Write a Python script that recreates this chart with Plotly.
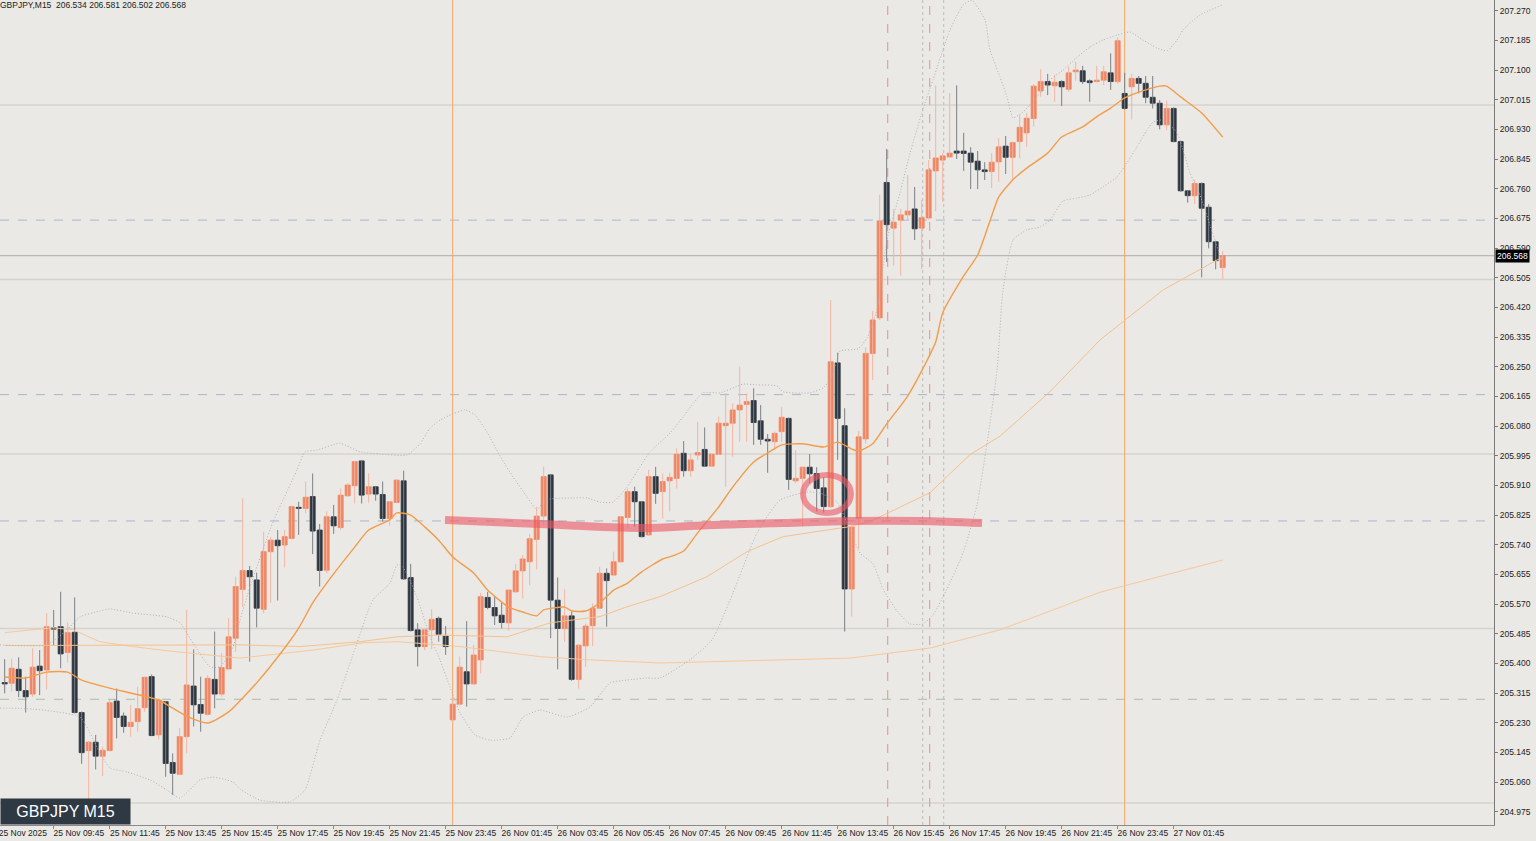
import plotly.graph_objects as go

# ---------------- OHLC data (GBPJPY M15), bar 0 = 25 Nov 08:00 ----------------
opens = [205.345, 205.343, 205.383, 205.322, 205.312, 205.392, 205.381, 205.502, 205.505, 205.431,
         205.489, 205.259, 205.150, 205.174, 205.134, 205.150, 205.292, 205.249, 205.219, 205.233,
         205.273, 205.362, 205.195, 205.290, 205.116, 205.082, 205.190, 205.335, 205.282, 205.254,
         205.354, 205.312, 205.384, 205.472, 205.612, 205.666, 205.639, 205.555, 205.720, 205.753,
         205.739, 205.758, 205.847, 205.844, 205.878, 205.782, 205.667, 205.820, 205.789, 205.880,
         205.909, 205.980, 205.885, 205.906, 205.884, 205.815, 205.861, 205.923, 205.646, 205.496,
         205.448, 205.496, 205.529, 205.478, 205.238, 205.283, 205.376, 205.341, 205.410, 205.589,
         205.560, 205.538, 205.516, 205.605, 205.665, 205.691, 205.755, 205.822, 205.940, 205.581,
         205.500, 205.536, 205.354, 205.450, 205.508, 205.558, 205.658, 205.653, 205.691, 205.818,
         205.892, 205.863, 205.768, 205.935, 205.892, 205.923, 205.930, 206.002, 205.952, 205.997,
         206.013, 205.965, 205.999, 206.081, 206.088, 206.126, 206.142, 206.153, 206.095, 206.042,
         206.035, 206.064, 206.102, 205.923, 205.930, 205.962, 205.944, 205.903, 205.849, 206.261,
         206.081, 205.613, 205.816, 206.043, 206.288, 206.390, 206.778, 206.647, 206.670, 206.685,
         206.702, 206.647, 206.676, 206.811, 206.842, 206.851, 206.868, 206.868, 206.862, 206.839,
         206.814, 206.809, 206.837, 206.882, 206.850, 206.895, 206.920, 206.961, 207.040, 207.067,
         207.055, 207.067, 207.045, 207.095, 207.098, 207.069, 207.067, 207.071, 207.092, 207.067,
         207.033, 207.052, 207.076, 207.062, 207.022, 207.005, 206.943, 206.990, 206.895, 206.754,
         206.740, 206.775, 206.707, 206.608, 206.534]
highs = [205.412, 205.414, 205.417, 205.362, 205.443, 205.438, 205.543, 205.553, 205.605, 205.517,
         205.589, 205.262, 205.178, 205.195, 205.161, 205.295, 205.328, 205.259, 205.281, 205.333,
         205.362, 205.368, 205.300, 205.292, 205.142, 205.214, 205.553, 205.440, 205.362, 205.366,
         205.491, 205.430, 205.529, 205.648, 205.873, 205.679, 205.660, 205.777, 205.761, 205.782,
         205.782, 205.852, 205.863, 205.921, 205.944, 205.799, 205.835, 205.854, 205.901, 205.916,
         205.980, 205.982, 205.944, 205.908, 205.921, 205.865, 205.927, 205.952, 205.685, 205.515,
         205.500, 205.555, 205.534, 205.507, 205.300, 205.419, 205.521, 205.453, 205.602, 205.605,
         205.591, 205.574, 205.612, 205.685, 205.710, 205.771, 205.849, 205.964, 205.943, 205.646,
         205.612, 205.548, 205.455, 205.514, 205.572, 205.677, 205.672, 205.720, 205.822, 205.901,
         205.906, 205.865, 205.954, 205.963, 205.944, 205.946, 206.016, 206.037, 206.000, 206.092,
         206.076, 206.002, 206.107, 206.174, 206.145, 206.250, 206.174, 206.188, 206.140, 206.057,
         206.064, 206.135, 206.104, 206.011, 205.964, 206.000, 205.962, 205.933, 206.441, 206.290,
         206.131, 205.796, 206.066, 206.306, 206.410, 206.743, 206.874, 206.702, 206.702, 206.799,
         206.765, 206.728, 206.842, 207.056, 206.862, 207.034, 207.056, 206.920, 206.879, 206.868,
         206.836, 206.862, 206.905, 206.911, 206.895, 206.971, 206.977, 207.060, 207.102, 207.089,
         207.086, 207.071, 207.110, 207.124, 207.112, 207.073, 207.112, 207.112, 207.148, 207.194,
         207.092, 207.089, 207.083, 207.083, 207.083, 207.014, 207.012, 206.993, 206.897, 206.756,
         206.785, 206.778, 206.716, 206.611, 206.581]
lows = [205.314, 205.319, 205.303, 205.259, 205.304, 205.309, 205.325, 205.452, 205.386, 205.402,
        205.257, 205.112, 205.008, 205.096, 205.077, 205.148, 205.185, 205.201, 205.190, 205.204,
        205.261, 205.193, 205.182, 205.075, 205.023, 205.080, 205.142, 205.219, 205.204, 205.250,
        205.271, 205.305, 205.382, 205.433, 205.562, 205.405, 205.503, 205.543, 205.574, 205.580,
        205.675, 205.755, 205.768, 205.830, 205.713, 205.620, 205.658, 205.771, 205.782, 205.878,
        205.858, 205.858, 205.860, 205.866, 205.806, 205.794, 205.859, 205.639, 205.491, 205.391,
        205.438, 205.440, 205.462, 205.424, 205.225, 205.280, 205.276, 205.338, 205.371, 205.555,
        205.510, 205.500, 205.494, 205.602, 205.586, 205.624, 205.669, 205.796, 205.472, 205.383,
        205.462, 205.350, 205.328, 205.390, 205.450, 205.555, 205.505, 205.650, 205.689, 205.787,
        205.792, 205.761, 205.765, 205.857, 205.815, 205.835, 205.901, 205.935, 205.935, 205.983,
        205.963, 205.963, 205.997, 205.906, 205.992, 206.035, 206.035, 206.026, 206.026, 205.946,
        206.011, 206.035, 205.897, 205.916, 205.792, 205.916, 205.835, 205.832, 205.845, 205.983,
        205.491, 205.534, 205.728, 206.029, 206.212, 206.384, 206.550, 206.540, 206.511, 206.670,
        206.613, 206.530, 206.672, 206.696, 206.722, 206.848, 206.845, 206.811, 206.759, 206.759,
        206.785, 206.762, 206.780, 206.802, 206.785, 206.847, 206.880, 206.938, 207.024, 207.028,
        207.009, 206.997, 207.038, 207.069, 207.060, 207.009, 207.064, 207.057, 207.043, 207.060,
        206.987, 206.959, 207.033, 207.005, 206.990, 206.930, 206.928, 206.893, 206.751, 206.720,
        206.716, 206.506, 206.589, 206.529, 206.502]
closes = [205.341, 205.386, 205.322, 205.304, 205.389, 205.379, 205.505, 205.498, 205.427, 205.488,
          205.259, 205.144, 205.174, 205.134, 205.151, 205.287, 205.245, 205.219, 205.231, 205.270,
          205.360, 205.193, 205.295, 205.113, 205.085, 205.190, 205.338, 205.281, 205.257, 205.357,
          205.312, 205.388, 205.476, 205.620, 205.666, 205.648, 205.558, 205.720, 205.753, 205.737,
          205.763, 205.849, 205.844, 205.876, 205.779, 205.666, 205.820, 205.794, 205.882, 205.911,
          205.978, 205.882, 205.906, 205.885, 205.815, 205.863, 205.925, 205.642, 205.494, 205.448,
          205.496, 205.526, 205.483, 205.448, 205.283, 205.389, 205.341, 205.424, 205.591, 205.560,
          205.536, 205.517, 205.610, 205.665, 205.699, 205.757, 205.822, 205.935, 205.581, 205.500,
          205.536, 205.354, 205.452, 205.507, 205.558, 205.658, 205.637, 205.691, 205.820, 205.892,
          205.863, 205.763, 205.935, 205.887, 205.921, 205.933, 205.999, 205.952, 205.983, 206.004,
          205.965, 205.999, 206.088, 206.088, 206.126, 206.140, 206.150, 206.090, 206.042, 206.037,
          206.059, 206.105, 205.927, 205.930, 205.962, 205.943, 205.901, 205.849, 206.264, 206.102,
          205.613, 205.791, 206.049, 206.288, 206.384, 206.668, 206.657, 206.664, 206.685, 206.696,
          206.645, 206.677, 206.814, 206.848, 206.854, 206.862, 206.862, 206.861, 206.836, 206.814,
          206.809, 206.836, 206.880, 206.850, 206.892, 206.936, 206.962, 207.054, 207.067, 207.057,
          207.065, 207.052, 207.092, 207.100, 207.067, 207.064, 207.071, 207.095, 207.067, 207.184,
          206.990, 207.076, 207.062, 207.022, 207.005, 206.943, 206.990, 206.895, 206.754, 206.740,
          206.775, 206.704, 206.608, 206.554, 206.568]
bars = list(range(len(opens)))

# ---------------- indicators (bar position, price) ----------------
ma20_bars = [0, 3, 6, 9, 11, 15, 18, 22, 24, 26, 29, 32, 34, 36, 40, 42, 44, 46, 50, 52, 55, 56, 58, 60, 62,
             64, 67, 69, 72, 74, 76, 77, 80, 81, 83, 85, 87, 89, 91, 94, 95, 97, 99, 102, 104, 107, 109, 111,
             114, 117, 119, 121, 122, 124, 126, 129, 131, 133, 134, 137, 139, 141, 142, 144, 146, 149, 151,
             154, 156, 158, 160, 163, 165, 166, 168, 171, 174]
ma20_vals = [205.361, 205.358, 205.375, 205.375, 205.352, 205.329, 205.315, 205.295, 205.272, 205.249,
             205.229, 205.261, 205.301, 205.344, 205.444, 205.501, 205.573, 205.630, 205.733, 205.782,
             205.811, 205.831, 205.825, 205.791, 205.753, 205.705, 205.659, 205.610, 205.561, 205.547,
             205.536, 205.553, 205.561, 205.550, 205.550, 205.573, 205.610, 205.630, 205.662, 205.699,
             205.705, 205.722, 205.774, 205.848, 205.905, 205.977, 206.003, 206.026, 206.029, 206.020,
             206.034, 206.014, 206.008, 206.029, 206.086, 206.166, 206.238, 206.321, 206.404, 206.510,
             206.570, 206.682, 206.736, 206.785, 206.819, 206.862, 206.908, 206.937, 206.966, 206.991,
             207.020, 207.043, 207.054, 207.054, 207.023, 206.977, 206.908]

ma75_bars = [0, 13.6, 33.6, 42.2, 50.8, 56.05, 62.2, 71.8, 77.9, 85.05, 88.9, 93.6, 100.3, 106.05, 111.2,
             117.5, 120.8, 123.6, 132.2, 137.9, 142.2, 149.3, 156.5, 165.5, 173.2, 174.05]
ma75_vals = [205.451, 205.451, 205.453, 205.448, 205.462, 205.476, 205.481, 205.476, 205.516, 205.534,
             205.562, 205.591, 205.648, 205.720, 205.763, 205.782, 205.792, 205.806, 205.889, 205.998,
             206.051, 206.178, 206.327, 206.470, 206.556, 206.562]

ma200_bars = [0, 6.9, 9.8, 13.6, 18.3, 23.2, 33.6, 44.05, 51.2, 56.05, 62.2, 65.05, 76.5, 83.6, 93.6,
              120.8, 132.2, 142.2, 156.5, 174]
ma200_vals = [205.488, 205.502, 205.496, 205.462, 205.448, 205.436, 205.415, 205.438, 205.459, 205.462,
              205.453, 205.448, 205.419, 205.410, 205.401, 205.415, 205.444, 205.496, 205.604, 205.696]

bb_up_bars = [-0.67, 6.05, 8.9, 10.76, 13.62, 15.05, 18.33, 23.19, 25.05, 26.9, 29.33, 30.76, 32.62, 33.62,
              35.05, 38.33, 41.76, 42.9, 44.62, 47.9, 50.76, 53.62, 57.48, 59.33, 60.76, 62.19, 64.05,
              65.76, 67.19, 68.9, 70.76, 72.62, 74.62, 76.05, 76.9, 77.9, 81.19, 83.19, 85.05, 86.9, 88.9,
              90.76, 92.19, 95.05, 96.9, 99.76, 102.19, 105.48, 107.48, 110.33, 111.19, 115.05, 116.9,
              117.9, 118.9, 119.33, 121.9, 123.19, 124.62, 126.05, 127.9, 129.33, 131.19, 132.62, 135.05,
              136.9, 138.19, 140.05, 140.76, 142.19, 143.19, 144.05, 145.48, 147.48, 149.33, 151.19,
              153.19, 155.05, 156.9, 158.9, 160.76, 162.62, 164.62, 166.05, 167.48, 168.33, 170.76, 173.9]
bb_up_vals = [205.453, 205.453, 205.496, 205.533, 205.550, 205.556, 205.544, 205.533, 205.516, 205.458,
              205.390, 205.390, 205.447, 205.524, 205.619, 205.805, 205.954, 206.006, 206.011, 206.031,
              206.006, 206.000, 205.997, 206.029, 206.074, 206.097, 206.115, 206.126, 206.112, 206.063,
              205.994, 205.934, 205.877, 205.839, 205.862, 205.871, 205.874, 205.874, 205.862, 205.862,
              205.905, 205.963, 206.006, 206.060, 206.106, 206.175, 206.175, 206.200, 206.198, 206.195,
              206.178, 206.175, 206.189, 206.212, 206.269, 206.295, 206.301, 206.332, 206.415, 206.613,
              206.748, 206.862, 206.988, 207.072, 207.215, 207.286, 207.300, 207.243, 207.157, 207.080,
              207.023, 206.963, 206.980, 207.023, 207.072, 207.100, 207.137, 207.166, 207.186, 207.200,
              207.209, 207.186, 207.163, 207.155, 207.186, 207.215, 207.258, 207.286]

bb_lo_bars = [-0.67, 4.05, 10.76, 13.62, 15.05, 17.48, 20.76, 23.19, 25.05, 27.9, 29.76, 32.62, 33.62,
              36.48, 40.76, 42.9, 45.05, 47.48, 50.33, 52.62, 55.05, 56.05, 56.9, 58.9, 60.76, 62.19, 63.62,
              65.05, 67.19, 69.33, 72.19, 74.05, 76.48, 80.33, 83.62, 86.48, 88.9, 91.76, 93.62, 97.9,
              101.05, 104.05, 107.48, 110.76, 114.62, 116.48, 118.9, 120.76, 122.19, 124.05, 125.48,
              127.48, 129.33, 131.19, 132.62, 134.62, 136.9, 138.9, 140.33, 141.76, 142.62, 144.05,
              146.05, 147.9, 149.33, 151.19, 153.19, 155.05, 156.9, 158.9, 160.33, 161.76, 163.19, 164.05,
              165.48, 167.48, 169.33, 170.76, 172.19, 173.9]
bb_lo_vals = [205.272, 205.269, 205.246, 205.143, 205.100, 205.089, 205.066, 205.037, 205.014, 205.066,
              205.074, 205.060, 205.040, 205.008, 205.003, 205.037, 205.180, 205.295, 205.458, 205.582,
              205.630, 205.682, 205.676, 205.590, 205.476, 205.410, 205.332, 205.258, 205.195, 205.180,
              205.186, 205.246, 205.266, 205.246, 205.275, 205.344, 205.352, 205.358, 205.358, 205.410,
              205.467, 205.602, 205.774, 205.868, 205.891, 205.888, 205.862, 205.782, 205.716, 205.685,
              205.613, 205.550, 205.513, 205.513, 205.539, 205.613, 205.716, 205.854, 206.029, 206.238,
              206.470, 206.613, 206.642, 206.650, 206.670, 206.725, 206.733, 206.742, 206.765, 206.794,
              206.834, 206.880, 206.928, 206.951, 206.957, 206.920, 206.805, 206.742, 206.656, 206.550]

# hand-drawn marks on the chart
drawn_line_bars = [62.9, 76.48, 90.76, 100.3, 111.19, 120.76, 130.76, 139.62]
drawn_line_vals = [205.811, 205.799, 205.788, 205.796, 205.802, 205.808, 205.808, 205.802]
circle_bars = [114.05, 120.9]
circle_vals = [205.831, 205.940]

# horizontal / vertical levels
round_levels = [207.0, 206.5, 206.0, 205.5, 205.0]
blue_levels = [206.670, 206.170, 205.808]
green_levels = [205.297]
last_price = 206.568
day_lines = [64, 160]
red_vlines = [126.15, 132.15]
gray_vlines = [131.15, 134.15]

# time axis labels
label_bars = [-1] + [7 + 8 * j for j in range(21)]
label_text = ["25 Nov 2025", "25 Nov 09:45", "25 Nov 11:45", "25 Nov 13:45", "25 Nov 15:45",
              "25 Nov 17:45", "25 Nov 19:45", "25 Nov 21:45", "25 Nov 23:45", "26 Nov 01:45",
              "26 Nov 03:45", "26 Nov 05:45", "26 Nov 07:45", "26 Nov 09:45", "26 Nov 11:45",
              "26 Nov 13:45", "26 Nov 15:45", "26 Nov 17:45", "26 Nov 19:45", "26 Nov 21:45",
              "26 Nov 23:45", "27 Nov 01:45"]

BG = "#EAE9E5"
UP = "#F08561"
DN = "#2E3640"
UP_WICK = "#F2B5A3"
DN_WICK = "#7A8087"
FONT = "Liberation Sans, Arial, sans-serif"

fig = go.Figure()

up = [i for i in bars if closes[i] >= opens[i]]
dn = [i for i in bars if closes[i] < opens[i]]


def wick_xy(idx):
    xs, ys = [], []
    for i in idx:
        xs += [i, i, None]
        ys += [lows[i], highs[i], None]
    return xs, ys


for idx, col in ((up, UP_WICK), (dn, DN_WICK)):
    wx, wy = wick_xy(idx)
    fig.add_trace(go.Scatter(x=wx, y=wy, mode="lines", line=dict(color=col, width=1),
                             hoverinfo="skip", showlegend=False))

for idx, col in ((up, UP), (dn, DN)):
    fig.add_trace(go.Bar(x=idx, y=[closes[i] - opens[i] for i in idx], base=[opens[i] for i in idx],
                         width=0.72, marker=dict(color=col, line=dict(color=col, width=0.8)),
                         hoverinfo="skip", showlegend=False))

# indicators
fig.add_trace(go.Scatter(x=ma200_bars, y=ma200_vals, mode="lines", line=dict(color="#F7C89A", width=1),
                         hoverinfo="skip", showlegend=False))
fig.add_trace(go.Scatter(x=ma75_bars, y=ma75_vals, mode="lines", line=dict(color="#F6C18C", width=1),
                         hoverinfo="skip", showlegend=False))
for bx, bv in ((bb_up_bars, bb_up_vals), (bb_lo_bars, bb_lo_vals)):
    fig.add_trace(go.Scatter(x=bx, y=bv, mode="lines",
                             line=dict(color="#AEB1B8", width=1, dash="1px,2px", shape="spline", smoothing=0.5),
                             hoverinfo="skip", showlegend=False))
fig.add_trace(go.Scatter(x=ma20_bars, y=ma20_vals, mode="lines",
                         line=dict(color="#F29D4B", width=1.4, shape="spline", smoothing=0.6),
                         hoverinfo="skip", showlegend=False))

# hand drawing
fig.add_trace(go.Scatter(x=drawn_line_bars, y=drawn_line_vals, mode="lines",
                         line=dict(color="rgba(236,88,102,0.62)", width=8, shape="spline"),
                         hoverinfo="skip", showlegend=False))

shapes = []
for lv in round_levels:
    shapes.append(dict(type="line", xref="paper", x0=0, x1=1, yref="y", y0=lv, y1=lv,
                       line=dict(color="#D5D3CE", width=1.5), layer="below"))
for lv in blue_levels:
    shapes.append(dict(type="line", xref="paper", x0=0, x1=1, yref="y", y0=lv, y1=lv,
                       line=dict(color="#A8B7CC", width=1, dash="dash"), layer="below"))
for lv in green_levels:
    shapes.append(dict(type="line", xref="paper", x0=0, x1=1, yref="y", y0=lv, y1=lv,
                       line=dict(color="#A9BDA8", width=1, dash="dash"), layer="below"))
shapes.append(dict(type="line", xref="paper", x0=0, x1=1, yref="y", y0=last_price, y1=last_price,
                   line=dict(color="#ABABAB", width=1), layer="below"))
for vx in day_lines:
    shapes.append(dict(type="line", xref="x", x0=vx, x1=vx, yref="paper", y0=0, y1=1,
                       line=dict(color="#F3A865", width=1), layer="below"))
for vx in red_vlines:
    shapes.append(dict(type="line", xref="x", x0=vx, x1=vx, yref="paper", y0=0, y1=1,
                       line=dict(color="#E69090", width=1, dash="dash"), layer="below"))
for vx in gray_vlines:
    shapes.append(dict(type="line", xref="x", x0=vx, x1=vx, yref="paper", y0=0, y1=1,
                       line=dict(color="#BDBDBD", width=1, dash="dot"), layer="below"))
shapes.append(dict(type="circle", xref="x", yref="y", x0=circle_bars[0], x1=circle_bars[1],
                   y0=circle_vals[0], y1=circle_vals[1], line=dict(color="rgba(236,88,102,0.62)", width=6)))

annotations = [
    dict(xref="paper", yref="paper", x=0, y=1, xanchor="left", yanchor="top", yshift=2, xshift=-2,
         text="GBPJPY,M15\u00a0\u00a0206.534 206.581 206.502 206.568", showarrow=False,
         font=dict(family=FONT, size=8.5, color="#222222")),
    dict(xref="paper", yref="paper", x=0, y=0, xanchor="left", yanchor="bottom",
         text="GBPJPY M15", showarrow=False, bgcolor="#2E3944", width=129, height=25, borderpad=0,
         font=dict(family=FONT, size=16, color="#FFFFFF")),
    dict(xref="paper", yref="y", x=1, y=last_price, xanchor="left", yanchor="middle",
         text="206.568", showarrow=False, bgcolor="#000000", borderpad=1, xshift=1,
         font=dict(family=FONT, size=8.5, color="#FFFFFF")),
]

fig.update_layout(
    width=1536, height=841,
    margin=dict(l=0, r=42, t=0, b=16),
    paper_bgcolor=BG, plot_bgcolor=BG,
    barmode="overlay", showlegend=False, hovermode=False,
    shapes=shapes, annotations=annotations,
    xaxis=dict(range=[-0.667, 212.76], tickmode="array",
               tickvals=[b + 3.6 for b in label_bars], ticktext=label_text,
               ticks="", showgrid=False, zeroline=False, showline=True, linecolor="#8A8A8A",
               linewidth=1, tickfont=dict(family=FONT, size=8.5, color="#222222"),
               ticklabeloverflow="allow",
               minor=dict(tickmode="array", tickvals=label_bars, ticks="outside", ticklen=3,
                          tickcolor="#8A8A8A", showgrid=False),
               fixedrange=True),
    yaxis=dict(side="right", range=[204.9368, 207.3007], tickmode="linear", tick0=204.975, dtick=0.085,
               tickformat=".3f", showgrid=False, zeroline=False, showline=True, linecolor="#7A7A7A",
               linewidth=1, ticks="outside", ticklen=3, tickcolor="#7A7A7A",
               tickfont=dict(family=FONT, size=8.5, color="#222222"), fixedrange=True),
)

fig.write_html("out.html", config={"displayModeBar": False},
               post_script="document.body.style.margin='0';document.body.style.overflow='hidden';")
